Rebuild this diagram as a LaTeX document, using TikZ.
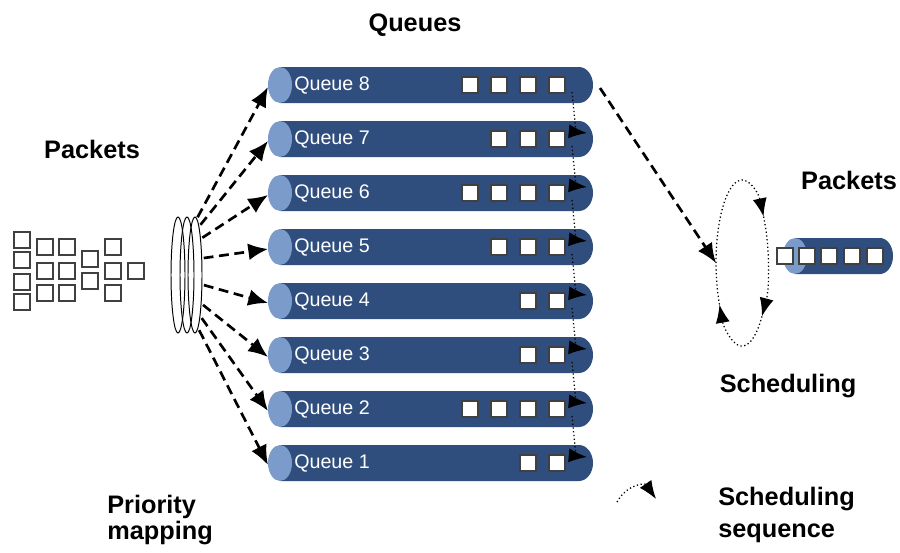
\documentclass[tikz,border=0pt]{standalone}
\usepackage{fontspec}
\setmainfont{Liberation Sans}
\usetikzlibrary{arrows.meta}
\definecolor{qbody}{RGB}{47,78,126}
\definecolor{qcap}{RGB}{123,155,203}

\begin{document}
\begin{tikzpicture}[
x=0.025cm, y=0.025cm,
title/.style={font=\bfseries\fontsize{18}{18.5}\selectfont, inner sep=0pt},
qlabel/.style={font=\fontsize{14}{16}\selectfont, text=white, anchor=west, inner sep=0pt},
pkt/.style={draw=black!75, fill=white, line width=1.3pt, minimum size=0.38cm, inner sep=0pt},
ring/.style={draw, line width=0.7pt},
flow/.style={line width=1.9pt, dash pattern=on 7pt off 4pt, -{Latex[length=14pt,width=12pt]}},
sched/.style={line width=0.9pt, dash pattern=on 0.9pt off 1.8pt, -{Latex[length=13pt,width=10pt]}}
]

\useasboundingbox (0,0) rectangle (900,-552);

% titles
\node[title, anchor=base] (tq) at (415,-31) {Queues};
\node[title, anchor=base] (tin) at (92,-158) {Packets};
\node[title, anchor=base] (tout) at (849,-189) {Packets};
\node[title, anchor=base] (tsch) at (788,-392) {Scheduling};
\node[title, anchor=north west, align=left] (tmap) at (107,-495) {Priority\\mapping};
\node[title, anchor=north west, align=left, font=\bfseries\fontsize{18}{22.7}\selectfont] (tseq) at (718,-487) {Scheduling\\sequence};

% incoming packets
\foreach \x/\y in {22/240, 22/260, 22/282, 22/302, 45/247, 45/271, 45/293, 67/247, 67/271, 67/293, 90/259, 90/281, 113/247, 113/271, 113/293, 136/271}
  \node[pkt] (p\x-\y) at (\x,-\y) {};

% mapping rings
\draw[ring] (178,-275) ellipse[x radius=7, y radius=58];
\draw[ring] (187,-275) ellipse[x radius=7, y radius=58];
\draw[ring] (195,-275) ellipse[x radius=7, y radius=58];

% queues
\foreach \k/\y/\n in {8/85/4, 7/139/3, 6/193/4, 5/247/3, 4/301/2, 3/355/2, 2/409/4, 1/463/2} {
  \fill[qbody] (280,-\y+18) -- (579,-\y+18) arc[start angle=90, end angle=-90, x radius=14, y radius=18] -- (280,-\y-18) -- cycle;
  \fill[qcap] (280,-\y) ellipse[x radius=12, y radius=18];
  \node[qlabel] (q\k) at (294,-\y) {Queue \k};
  \coordinate (in\k) at (268,-\y-2);
  \coordinate (s\k) at (572,-\y-7);
  \coordinate (t\k) at (587,-\y+6);
  \foreach \i in {1,...,\n}
    \node[pkt] (q\k-\i) at ({586-29*\i},-\y) {};
}
\coordinate (e8) at (600,-88);

% priority mapping
\foreach \k/\a in {8/85, 7/60, 6/40, 5/17, 4/-10, 3/-31, 2/-48, 1/-72}
  \coordinate (m\k) at ({197+7*cos(\a)},{-275+58*sin(\a)});
\foreach \k in {1,...,8}
  \draw[flow] (m\k) -- (in\k);

% scheduling order through the queues
\foreach \k/\j in {8/7, 7/6, 6/5, 5/4, 4/3, 3/2, 2/1}
  \draw[sched] (s\k) -- ++(4,-40) -- (t\j);

% outgoing packets
\fill[qbody] (795,-238) -- (880,-238) arc[start angle=90, end angle=-90, x radius=13, y radius=18] -- (795,-274) -- cycle;
\fill[qcap] (795,-256) ellipse[x radius=12, y radius=18];
\foreach \i/\x in {1/785, 2/807, 3/829, 4/852, 5/875}
  \node[pkt] (o\i) at (\x,-256) {};

% scheduling loop
\coordinate (l1) at (716,-263);
\coordinate (l2) at (763.6,-216.6);
\coordinate (l3) at (761.9,-316.4);
\coordinate (l4) at (719.5,-304.5);
\draw[flow] (e8) -- (l1);
\draw[sched] (l1) arc[start angle=180, end angle=34, x radius=26, y radius=83];
\draw[sched] (l2) arc[start angle=34, end angle=-40, x radius=26, y radius=83];
\draw[sched] (l3) arc[start angle=-40, end angle=-150, x radius=26, y radius=83];
\draw[sched, -] (l4) arc[start angle=-150, end angle=-180, x radius=26, y radius=83];

% legend
\coordinate (g1) at (617,-502);
\coordinate (g2) at (656,-499);
\draw[sched] (g1) .. controls (627,-484) and (645,-483) .. (g2);

\end{tikzpicture}
\end{document}
